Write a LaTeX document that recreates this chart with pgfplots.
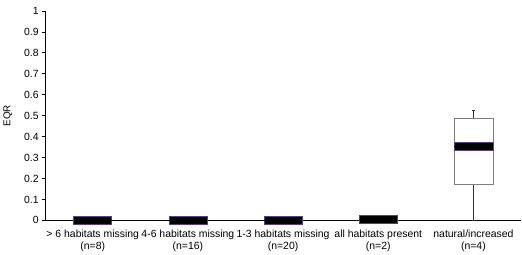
\documentclass[border={0pt 2pt 0pt 4pt}]{standalone}
\usepackage{pgfplots}
\pgfplotsset{compat=1.18}
\usepgfplotslibrary{statistics}
\usepackage{fontspec}
\setmainfont{Liberation Sans}
\definecolor{bandedge}{RGB}{90,60,140}
\definecolor{boxedge}{RGB}{128,128,128}
\begin{document}
\begin{tikzpicture}
\begin{axis}[
  scale only axis, width=477bp, height=210bp,
  xmin=0.5, xmax=5.5, ymin=0, ymax=1,
  boxplot/draw direction=y,
  axis x line=bottom, axis y line=left,
  axis line style={-, black, line width=0.8pt},
  clip=false,
  xtick={1,2,3,4,5},
  xticklabels={{> 6 habitats missing\\(n=8)},{4-6 habitats missing\\(n=16)},{1-3 habitats missing\\(n=20)},{all habitats present\\(n=2)},{natural/increased\\(n=4)}},
  xticklabel style={align=center, font=\fontsize{10.5}{12}\selectfont, inner sep=1pt, yshift=-5bp},
  x tick style={draw=none},
  extra x ticks={1.5,2.5,3.5,4.5,5.5},
  extra x tick labels={},
  extra x tick style={major tick length=3pt, tick style={draw=black, line width=0.6pt}, tick align=center},
  ytick={0,0.1,...,1.01},
  yticklabel style={font=\fontsize{10.5}{12}\selectfont, /pgf/number format/fixed, /pgf/number format/precision=1},
  /pgf/number format/assume math mode=true,
  y tick style={black, line width=0.6pt},
  tick align=outside, major tick length=3pt,
  ylabel={EQR}, ylabel style={font=\fontsize{10}{12}\selectfont, at={(axis description cs:-0.062,0.5)}},
]
% natural/increased box
\addplot[draw=boxedge, fill=white, line width=0.6pt,
  boxplot prepared={draw position=5, median=0.352, lower quartile=0.171, upper quartile=0.486,
    lower whisker=0, upper whisker=0.524, box extend=0.41, whisker extend=0.03},
  boxplot/every whisker/.style={draw=black!80, line width=0.6pt},
  boxplot/every median/.style={draw=black}]
  coordinates {};
% median bands
\addplot[draw=bandedge, fill=black, line width=0.6pt,
  boxplot prepared={draw position=1, median=0, lower quartile=-0.019, upper quartile=0.019,
    lower whisker=-0.019, upper whisker=0.019, box extend=0.4, whisker extend=0},
  boxplot/every median/.style={draw=black}]
  coordinates {};
\addplot[draw=bandedge, fill=black, line width=0.6pt,
  boxplot prepared={draw position=2, median=0, lower quartile=-0.019, upper quartile=0.019,
    lower whisker=-0.019, upper whisker=0.019, box extend=0.4, whisker extend=0},
  boxplot/every median/.style={draw=black}]
  coordinates {};
\addplot[draw=bandedge, fill=black, line width=0.6pt,
  boxplot prepared={draw position=3, median=0, lower quartile=-0.019, upper quartile=0.019,
    lower whisker=-0.019, upper whisker=0.019, box extend=0.4, whisker extend=0},
  boxplot/every median/.style={draw=black}]
  coordinates {};
\addplot[draw=bandedge, fill=black, line width=0.6pt,
  boxplot prepared={draw position=4, median=0.005, lower quartile=-0.014, upper quartile=0.024,
    lower whisker=-0.014, upper whisker=0.024, box extend=0.4, whisker extend=0},
  boxplot/every median/.style={draw=black}]
  coordinates {};
\addplot[draw=bandedge, fill=black, line width=0.6pt,
  boxplot prepared={draw position=5, median=0.352, lower quartile=0.333, upper quartile=0.371,
    lower whisker=0.333, upper whisker=0.371, box extend=0.41, whisker extend=0},
  boxplot/every median/.style={draw=black}]
  coordinates {};
\end{axis}
\end{tikzpicture}
\end{document}
